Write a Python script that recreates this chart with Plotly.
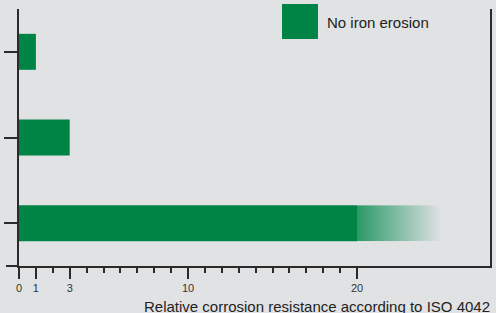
import base64
import plotly.graph_objects as go

# ---- data ----
categories = ["Coating A", "Coating B", "Coating C"]
values = [1, 3, 20]
fade_end = [None, None, 25]          # upper estimate shown as a fading extension
tick_values = [0, 1, 3, 10, 20]
tick_labels = ["0", "1", "3", "10", "20"]
minor_tick_values = list(range(0, 21))
legend_label = "No iron erosion"
x_title = "Relative corrosion resistance according to ISO 4042"

# ---- style ----
GREEN = "#008445"
FADE_START = "#2a9a67"
BG = "#e1e2e4"
LINE = "#2a2a2a"
BAR_W = 0.42
FONT = "Liberation Sans, Arial, sans-serif"

positions = list(range(len(categories)))

fig = go.Figure()
fig.add_trace(go.Bar(
    x=values, y=positions, orientation="h", width=BAR_W,
    marker=dict(color=GREEN, line=dict(width=0)),
    name=legend_label, showlegend=False, hovertext=categories,
))

# gradient extension drawn as an SVG image placed in data coordinates
svg = (
    '<svg xmlns="http://www.w3.org/2000/svg" width="200" height="20" preserveAspectRatio="none">'
    '<defs><linearGradient id="g" x1="0" y1="0" x2="1" y2="0">'
    f'<stop offset="0" stop-color="{FADE_START}"/>'
    f'<stop offset="1" stop-color="{BG}"/>'
    '</linearGradient></defs>'
    '<rect x="0" y="0" width="200" height="20" fill="url(#g)"/></svg>'
)
src = "data:image/svg+xml;base64," + base64.b64encode(svg.encode()).decode()
images = []
for p, v, f in zip(positions, values, fade_end):
    if f is not None:
        images.append(dict(
            source=src, xref="x", yref="y", x=v, y=p,
            sizex=f - v, sizey=BAR_W, xanchor="left", yanchor="middle",
            sizing="stretch", layer="above",
        ))

fig.update_layout(
    width=496, height=313,
    margin=dict(l=19, r=6, t=9, b=47, autoexpand=False),
    paper_bgcolor=BG, plot_bgcolor=BG,
    font=dict(family=FONT, color="#333333"),
    showlegend=False,
    images=images,
    xaxis=dict(
        range=[0, 27.87], showgrid=False, zeroline=False, automargin=False,
        showline=True, linecolor=LINE, linewidth=2,
        tickmode="array", tickvals=tick_values, ticktext=tick_labels,
        ticks="outside", ticklen=11, tickwidth=2, tickcolor=LINE,
        tickfont=dict(size=11, color="#333333"),
        minor=dict(tickmode="array", tickvals=minor_tick_values, ticks="outside",
                   ticklen=5, tickwidth=1.5, tickcolor=LINE, showgrid=False),
    ),
    yaxis=dict(
        range=[len(categories) - 0.5, -0.5], showgrid=False, zeroline=False,
        automargin=False,
        showline=True, mirror=True, linecolor=LINE, linewidth=2,
        tickmode="array", tickvals=positions, ticktext=["" for _ in categories],
        ticks="outside", ticklen=13, tickwidth=2, tickcolor=LINE,
    ),
    shapes=[
        # x-axis line extension left of zero
        dict(type="line", xref="paper", yref="paper", x0=-13 / 471, x1=0, y0=0, y1=0,
             line=dict(color=LINE, width=2)),
        # legend swatch
        dict(type="rect", xref="paper", yref="paper",
             x0=0.5584, x1=0.6348, y0=0.8833, y1=1.0195,
             fillcolor=GREEN, line=dict(width=0)),
    ],
    annotations=[
        dict(text=legend_label, xref="paper", yref="paper", x=0.6497, y=0.949,
             xanchor="left", yanchor="middle", showarrow=False,
             font=dict(size=15, color="#222222", family=FONT)),
        dict(text=x_title, xref="paper", yref="paper", x=1.0042, y=-0.156,
             xanchor="right", yanchor="middle", showarrow=False,
             font=dict(size=15, color="#222222", family=FONT)),
    ],
)

fig.write_html(
    "out.html",
    config={"displayModeBar": False},
    post_script="document.body.style.margin='0';document.body.style.overflow='hidden';",
)
